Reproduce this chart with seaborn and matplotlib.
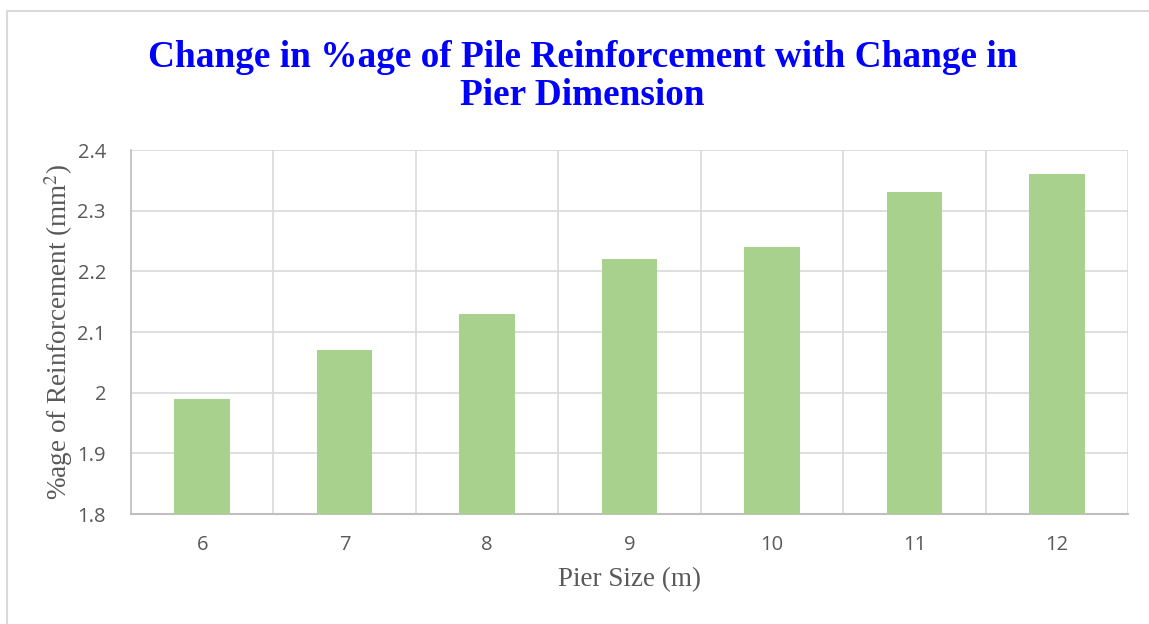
import numpy as np
import pandas as pd
import seaborn as sns
import matplotlib.pyplot as plt
from matplotlib.patches import Rectangle

# data
pier_size = ["6", "7", "8", "9", "10", "11", "12"]
reinforcement = [1.99, 2.07, 2.13, 2.22, 2.24, 2.33, 2.36]

df = pd.DataFrame({"pier": pier_size, "reinf": reinforcement})

sns.set_style("white")
plt.rcParams["font.family"] = ["Open Sans", "DejaVu Sans"]
plt.rcParams["mathtext.fontset"] = "stix"

fig = plt.figure(figsize=(11.49, 6.24), dpi=100)
ax = fig.add_axes([131 / 1149, 1 - 514 / 624, (1128 - 131) / 1149, (514 - 150) / 624])

sns.barplot(data=df, x="pier", y="reinf", color="#a9d18e", saturation=1,
            width=0.39, linewidth=0, ax=ax, zorder=3)

ax.set_ylim(1.8, 2.4)
ax.set_xlim(-0.5, len(pier_size) - 0.5)
ax.set_yticks([1.8, 1.9, 2.0, 2.1, 2.2, 2.3, 2.4])
ax.set_yticklabels(["1.8", "1.9", "2", "2.1", "2.2", "2.3", "2.4"])
ax.set_xticks(np.arange(-0.5, len(pier_size), 1.0), minor=True)

ax.grid(axis="y", which="major", color="#d9d9d9", linewidth=1.2, zorder=0)
ax.grid(axis="x", which="minor", color="#d9d9d9", linewidth=1.2, zorder=0)
ax.grid(axis="x", which="major", visible=False)

for s in ["top", "right"]:
    ax.spines[s].set_visible(False)
ax.spines["left"].set_color("#bfbfbf")
ax.spines["bottom"].set_color("#bfbfbf")
ax.spines["left"].set_linewidth(1.2)
ax.spines["bottom"].set_linewidth(1.5)

ax.tick_params(axis="both", which="both", length=0, colors="#595959", labelsize=14.5)
ax.tick_params(axis="x", pad=15)
ax.tick_params(axis="y", pad=18)

ax.set_xlabel("Pier Size (m)", family="Liberation Serif", fontsize=19.5,
              color="#595959", labelpad=9)
ax.set_ylabel("%age of Reinforcement (mm$^2$)", family="Liberation Serif",
              fontsize=19.5, color="#595959", labelpad=2)

fig.text(0.507, 0.878, "Change in %age of Pile Reinforcement with Change in\nPier Dimension",
         ha="center", va="center", family="Liberation Serif", fontweight="bold",
         fontsize=26.8, color="#0000ff", linespacing=1.12)

# outer chart frame
fig.patches.append(Rectangle((7 / 1149, -0.01), 1.2, 1 - 11 / 624 + 0.01,
                             transform=fig.transFigure, fill=False,
                             edgecolor="#d9d9d9", linewidth=1.5))

fig.savefig("out.png", dpi=100)
